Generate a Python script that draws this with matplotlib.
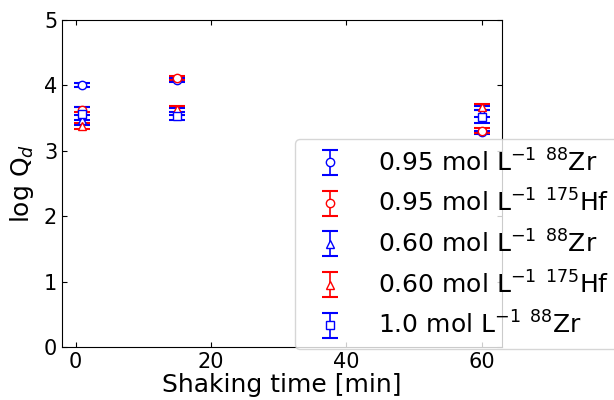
import numpy as np
import matplotlib.pyplot as plt

time_min = [1, 15, 60]

zr_095 = [4.00, 4.08, 3.28]
hf_095 = [3.63, 4.11, 3.31]
zr_060 = [3.47, 3.60, 3.60]
hf_060 = [3.38, 3.64, 3.67]
zr_100 = [3.57, 3.53, 3.52]

err_zr_095 = [0.03, 0.03, 0.03]
err_hf_095 = [0.04, 0.03, 0.04]
err_zr_060 = [0.08, 0.06, 0.08]
err_hf_060 = [0.05, 0.04, 0.05]
err_zr_100 = [0.10, 0.06, 0.10]

labels = [
    r'0.95 mol L$^{-1}$ $^{88}$Zr',
    r'0.95 mol L$^{-1}$ $^{175}$Hf',
    r'0.60 mol L$^{-1}$ $^{88}$Zr',
    r'0.60 mol L$^{-1}$ $^{175}$Hf',
    r'1.0 mol L$^{-1}$ $^{88}$Zr',
]
series = [zr_095, hf_095, zr_060, hf_060, zr_100]
errors = [err_zr_095, err_hf_095, err_zr_060, err_hf_060, err_zr_100]
colors = ['blue', 'red', 'blue', 'red', 'blue']
markers = ['o', 'o', '^', '^', 's']

fig = plt.figure(figsize=(6.14, 4.0), dpi=100)
ax = fig.add_axes([62 / 614, 53 / 400, 440 / 614, 327 / 400])

for y, e, c, m, lab in zip(series, errors, colors, markers, labels):
    ax.errorbar(time_min, y, yerr=e, fmt=m, color=c, mfc='white', mec=c,
                ms=6, capsize=6, elinewidth=1.2, capthick=1.5, label=lab)

ax.set_xlim(-2, 63)
ax.set_ylim(0, 5)
ax.set_xticks([0, 20, 40, 60])
ax.set_yticks([0, 1, 2, 3, 4, 5])
ax.tick_params(direction='in', top=True, right=True, labelsize=15)
ax.set_xlabel('Shaking time [min]', fontsize=18, labelpad=1)
ax.set_ylabel(r'log Q$_d$', fontsize=18, labelpad=6)

fig.legend(loc='lower left', bbox_to_anchor=(295 / 614, 51 / 400),
           fontsize=18, handlelength=2.0, handletextpad=0.9,
           labelspacing=0.54, borderaxespad=0.0)

plt.savefig('out.png', dpi=100)
plt.close()
